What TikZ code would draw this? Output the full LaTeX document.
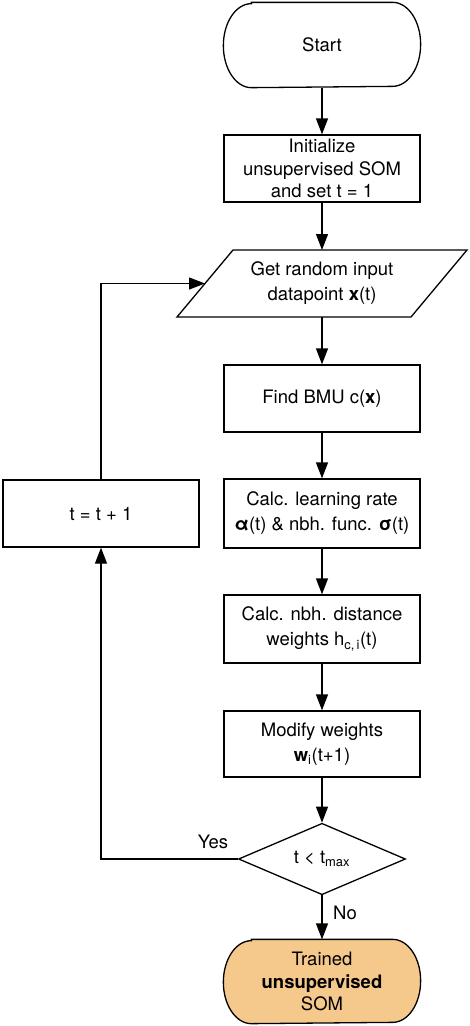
\documentclass[tikz,border=0pt]{standalone}
\usepackage{fontspec}
\setmainfont{TeX Gyre Heros}
\usetikzlibrary{shapes.geometric,arrows.meta}
\definecolor{endfill}{RGB}{245,200,140}
\begin{document}
\begin{tikzpicture}[x=1pt,y=-1pt,line width=1.3pt,
  font=\fontsize{18.5}{22.5}\selectfont,
  box/.style={draw,rectangle,minimum width=196pt,minimum height=67pt,inner sep=0pt,align=center},
  twoline/.style={font=\fontsize{18.5}{25}\selectfont},
  term/.style={rectangle,minimum width=196pt,minimum height=84pt,inner sep=0pt,align=center},
  parabody/.style={rectangle,minimum width=234pt,minimum height=67pt,inner sep=0pt,outer sep=0pt,align=center},
  dec/.style={draw,diamond,minimum width=167pt,minimum height=66pt,inner sep=0pt,align=center},
  arr/.style={-{Triangle[length=16pt,width=12pt]}},
  lbl/.style={inner sep=0pt}]
\useasboundingbox (0,0) rectangle (470,1026);
% nodes
\node[term] (start) at (322,45) {Start};
\node[box] (init) at (322,168.5) {Initialize\\unsupervised SOM\\and set t = 1};
\node[parabody,twoline] (get) at (322,283.5) {Get random input\\datapoint \textbf{x}(t)};
\draw ([xshift=28pt]get.north west) -- ([xshift=28pt]get.north east)
  -- ([xshift=-28pt]get.south east) -- ([xshift=-28pt]get.south west) -- cycle;
\node[box] (bmu) at (322,398.5) {Find BMU c(\textbf{x})};
\node[box,twoline,minimum height=69pt] (lr) at (322,513.5) {Calc. learning rate\\\textbf{α}(t) \& nbh. func. \textbf{σ}(t)};
\node[box,twoline,minimum height=68pt] (nbh) at (322,629) {Calc. nbh. distance\\weights h\textsubscript{c,\,i}(t)};
\node[box,twoline,minimum height=66pt] (mod) at (322,744) {Modify weights\\\textbf{w}\textsubscript{i}(t+1)};
\node[dec] (dec) at (322,859) {t < t\textsubscript{max}};
\node[box] (inc) at (101,513.5) {t = t + 1};
% terminal outlines
\draw ([xshift=28pt]start.north west) -- ([xshift=-28pt]start.north east)
  arc[start angle=90,end angle=-90,x radius=28pt,y radius=42pt]
  -- ([xshift=28pt]start.south west)
  arc[start angle=270,end angle=90,x radius=28pt,y radius=42pt] -- cycle;
\node[term,minimum height=83pt] (end) at (322,981.5) {};
\draw[fill=endfill] ([xshift=28pt]end.north west) -- ([xshift=-28pt]end.north east)
  arc[start angle=90,end angle=-90,x radius=28pt,y radius=41.5pt]
  -- ([xshift=28pt]end.south west)
  arc[start angle=270,end angle=90,x radius=28pt,y radius=41.5pt] -- cycle;
\node[term,minimum height=83pt] (endtext) at (end.center) {Trained\\\textbf{unsupervised}\\SOM};
% connectors
\draw[arr] (start) -- (init);
\draw[arr] (init) -- (get);
\draw[arr] (get) -- (bmu);
\draw[arr] (bmu) -- (lr);
\draw[arr] (lr) -- (nbh);
\draw[arr] (nbh) -- (mod);
\draw[arr] (mod) -- (dec);
\draw[arr] (dec) -- (end);
\draw[arr] (dec.west) -| (inc.south);
\draw[arr] (inc.north) |- (get.west);
% labels
\node[lbl] (yes) at (213,842) {Yes};
\node[lbl] (no) at (345,913) {No};
\end{tikzpicture}
\end{document}
